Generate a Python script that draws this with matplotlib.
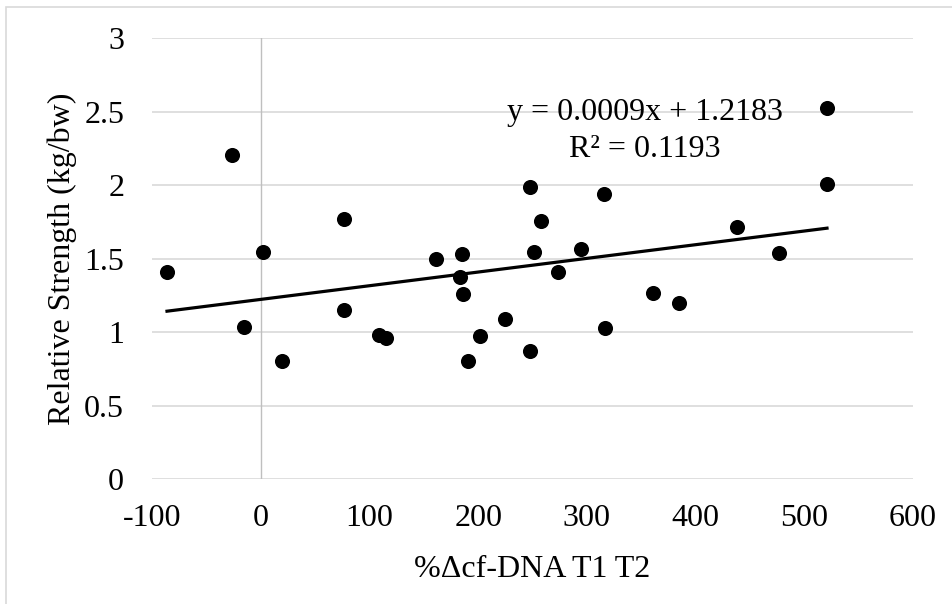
import matplotlib
matplotlib.use("Agg")
import matplotlib.pyplot as plt
from matplotlib.patches import Rectangle
import numpy as np

plt.rcParams['font.family'] = ['Liberation Serif', 'DejaVu Serif']
plt.rcParams['axes.unicode_minus'] = False

cfdna_change = [-86.2, -26.0, 1.8, -15.6, 19.6, 76.4, 76.4, 108.6, 115.6, 161.3,
                185.5, 183.7, 186.5, 191.1, 201.8, 224.5, 247.5, 248.1, 251.4, 257.6,
                315.5, 294.4, 273.9, 316.5, 361.3, 384.5, 438.5, 476.8, 520.9, 520.9]
rel_strength = [1.407, 2.206, 1.543, 1.037, 0.805, 1.768, 1.153, 0.980, 0.958, 1.495,
                1.530, 1.375, 1.259, 0.805, 0.976, 1.089, 1.990, 0.871, 1.543, 1.754,
                1.942, 1.566, 1.409, 1.028, 1.268, 1.198, 1.715, 1.536, 2.526, 2.008]
x_ticks = [-100, 0, 100, 200, 300, 400, 500, 600]
y_ticks = [0, 0.5, 1, 1.5, 2, 2.5, 3]
y_tick_labels = ['0', '0.5', '1', '1.5', '2', '2.5', '3']
eq_text = "y = 0.0009x + 1.2183\nR² = 0.1193"

x = np.array(cfdna_change)
y = np.array(rel_strength)

fig = plt.figure(figsize=(9.52, 6.04), dpi=100)
fig.patches.append(Rectangle((6/952, -0.1), 1.2, (604-7)/604 + 0.1, transform=fig.transFigure,
                             fill=False, edgecolor='#d9d9d9', linewidth=1.2))
ax = fig.add_axes([152/952, (604-479)/604, (913-152)/952, (479-38.3)/604])

ax.set_xlim(-100, 600)
ax.set_ylim(0, 3)
ax.set_xticks(x_ticks)
ax.set_xticklabels([str(t) for t in x_ticks])
ax.set_yticks(y_ticks)
ax.set_yticklabels(y_tick_labels)
for yt in y_ticks:
    ax.axhline(yt, color='#d9d9d9', linewidth=1.2, zorder=0)
ax.axvline(0, color='#bfbfbf', linewidth=1.0, zorder=0)
for s in ax.spines.values():
    s.set_visible(False)
ax.tick_params(length=0, labelsize=23)
ax.tick_params(axis='y', pad=20)
ax.tick_params(axis='x', pad=18)

ax.scatter(x, y, s=118, color='black', zorder=3, linewidths=0)

slope, intercept = np.polyfit(x, y, 1)
xl = np.array([x.min(), x.max()])
ax.plot(xl, slope * xl + intercept, color='black', linewidth=2.3, zorder=2)

ax.text(0.648, 0.79, eq_text, transform=ax.transAxes, ha='center', va='center',
        fontsize=23, linespacing=1.35)

ax.set_xlabel('%Δcf-DNA T1 T2', fontsize=23, labelpad=16)
ax.set_ylabel('Relative Strength (kg/bw)', fontsize=23, labelpad=5)

fig.savefig('out.png', dpi=100)
